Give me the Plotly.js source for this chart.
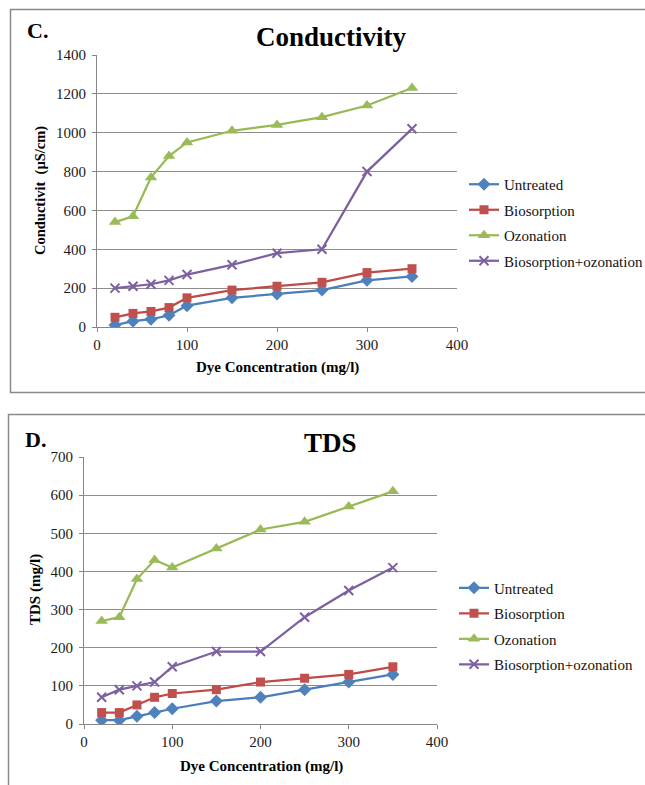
<!DOCTYPE html>
<html>
<head>
<meta charset="utf-8">
<script src="https://cdn.plot.ly/plotly-3.0.1.min.js"></script>
<style>html,body{margin:0;padding:0;background:#fff;overflow:hidden;width:645px;height:785px;}#chart{width:645px;height:785px;overflow:hidden;}</style>
</head>
<body>
<div id="chart"></div>
<script>
// ---- data ----
const dyeConc = [20, 40, 60, 80, 100, 150, 200, 250, 300, 350];
const seriesNames = ["Untreated", "Biosorption", "Ozonation", "Biosorption+ozonation"];

const condUntreated = [10, 30, 40, 60, 110, 150, 170, 190, 240, 260];
const condBiosorption = [50, 70, 80, 100, 150, 190, 210, 230, 280, 300];
const condOzonation = [540, 570, 770, 880, 950, 1010, 1040, 1080, 1140, 1230];
const condBioOzon = [200, 210, 220, 240, 270, 320, 380, 400, 800, 1020];

const tdsUntreated = [10, 10, 20, 30, 40, 60, 70, 90, 110, 130];
const tdsBiosorption = [30, 30, 50, 70, 80, 90, 110, 120, 130, 150];
const tdsOzonation = [270, 280, 380, 430, 410, 460, 510, 530, 570, 610];
const tdsBioOzon = [70, 90, 100, 110, 150, 190, 190, 280, 350, 410];

// ---- styles ----
const W = 645, H = 785;
const px = v => v / W;
const py = v => 1 - v / H;
const serif = "'Liberation Serif', 'Times New Roman', serif";
const styles = [
  {line: "#4A7EBB", marker: {symbol: "diamond", size: 10, color: "#4F81BD"}},
  {line: "#BE4B48", marker: {symbol: "square", size: 9, color: "#C0504D"}},
  {line: "#98B954", marker: {symbol: "triangle-up", size: 11, color: "#9BBB59"}},
  {line: "#7D60A0", marker: {symbol: "x-thin", size: 9, color: "#8064A2", line: {color: "#7D60A0", width: 2}}}
];

function makeTraces(vals, xa, ya, leg) {
  return vals.map((v, i) => ({
    x: dyeConc, y: v, name: seriesNames[i], type: "scatter", mode: "lines+markers",
    xaxis: xa, yaxis: ya, legend: leg, legendgroup: leg + i,
    line: {color: styles[i].line, width: 2.25},
    marker: styles[i].marker
  }));
}

const traces = [
  ...makeTraces([condUntreated, condBiosorption, condOzonation, condBioOzon], "x", "y", "legend"),
  ...makeTraces([tdsUntreated, tdsBiosorption, tdsOzonation, tdsBioOzon], "x2", "y2", "legend2")
];

const axisCommon = {
  showline: true, linecolor: "#868686", linewidth: 1,
  ticks: "outside", ticklen: 4, tickcolor: "#868686",
  tickfont: {family: serif, size: 15, color: "#1a1a1a"},
  zeroline: false, fixedrange: true, automargin: false
};
const xCommon = Object.assign({}, axisCommon, {range: [0, 400], dtick: 100, tick0: 0, showgrid: false});
const yCommon = Object.assign({}, axisCommon, {showgrid: true, gridcolor: "#8c8c8c", gridwidth: 1, ticklabelstandoff: 3});

const legendCommon = {
  font: {family: serif, size: 15, color: "#111"},
  bgcolor: "rgba(0,0,0,0)", xanchor: "left", yanchor: "middle",
  tracegroupgap: 3, itemwidth: 30, borderwidth: 0
};

const layout = {
  width: W, height: H,
  margin: {l: 0, r: 0, t: 0, b: 0, pad: 0, autoexpand: false},
  paper_bgcolor: "#fff", plot_bgcolor: "#fff",
  font: {family: serif},
  showlegend: true,
  xaxis: Object.assign({}, xCommon, {domain: [px(97), px(457)], anchor: "y"}),
  yaxis: Object.assign({}, yCommon, {domain: [py(327), py(55)], range: [0, 1400], dtick: 200, anchor: "x"}),
  xaxis2: Object.assign({}, xCommon, {domain: [px(84), px(437)], anchor: "y2"}),
  yaxis2: Object.assign({}, yCommon, {domain: [py(724), py(457)], range: [0, 700], dtick: 100, anchor: "x2"}),
  legend: Object.assign({}, legendCommon, {x: px(464), y: py(222.5)}),
  legend2: Object.assign({}, legendCommon, {x: px(454), y: py(626)}),
  shapes: [
    {type: "rect", xref: "paper", yref: "paper", x0: px(10.5), x1: px(660), y0: py(392.5), y1: py(9.5),
     line: {color: "#8a8a8a", width: 1.5}, fillcolor: "rgba(0,0,0,0)"},
    {type: "rect", xref: "paper", yref: "paper", x0: px(8.5), x1: px(660), y0: py(800), y1: py(414.5),
     line: {color: "#8a8a8a", width: 1.5}, fillcolor: "rgba(0,0,0,0)"}
  ],
  annotations: [
    {text: "<b>C.</b>", xref: "paper", yref: "paper", x: px(25), y: py(31), xanchor: "left", yanchor: "middle",
     showarrow: false, font: {family: serif, size: 22, color: "#000"}},
    {text: "<b>Conductivity</b>", xref: "paper", yref: "paper", x: px(331), y: py(37), xanchor: "center", yanchor: "middle",
     showarrow: false, font: {family: serif, size: 27, color: "#000"}},
    {text: "<b>Conductivit  (µS/cm)</b>", xref: "paper", yref: "paper", x: px(41), y: py(191), xanchor: "center", yanchor: "middle",
     textangle: -90, showarrow: false, font: {family: serif, size: 14.5, color: "#000"}},
    {text: "<b>Dye Concentration (mg/l)</b>", xref: "paper", yref: "paper", x: px(277), y: py(367), xanchor: "center", yanchor: "middle",
     showarrow: false, font: {family: serif, size: 15, color: "#000"}},
    {text: "<b>D.</b>", xref: "paper", yref: "paper", x: px(23), y: py(439), xanchor: "left", yanchor: "middle",
     showarrow: false, font: {family: serif, size: 22, color: "#000"}},
    {text: "<b>TDS</b>", xref: "paper", yref: "paper", x: px(330), y: py(443), xanchor: "center", yanchor: "middle",
     showarrow: false, font: {family: serif, size: 27, color: "#000"}},
    {text: "<b>TDS (mg/l)</b>", xref: "paper", yref: "paper", x: px(35), y: py(590), xanchor: "center", yanchor: "middle",
     textangle: -90, showarrow: false, font: {family: serif, size: 15, color: "#000"}},
    {text: "<b>Dye Concentration (mg/l)</b>", xref: "paper", yref: "paper", x: px(261), y: py(766), xanchor: "center", yanchor: "middle",
     showarrow: false, font: {family: serif, size: 15, color: "#000"}}
  ]
};

Plotly.newPlot("chart", traces, layout, {displayModeBar: false, staticPlot: true});
</script>
</body>
</html>
